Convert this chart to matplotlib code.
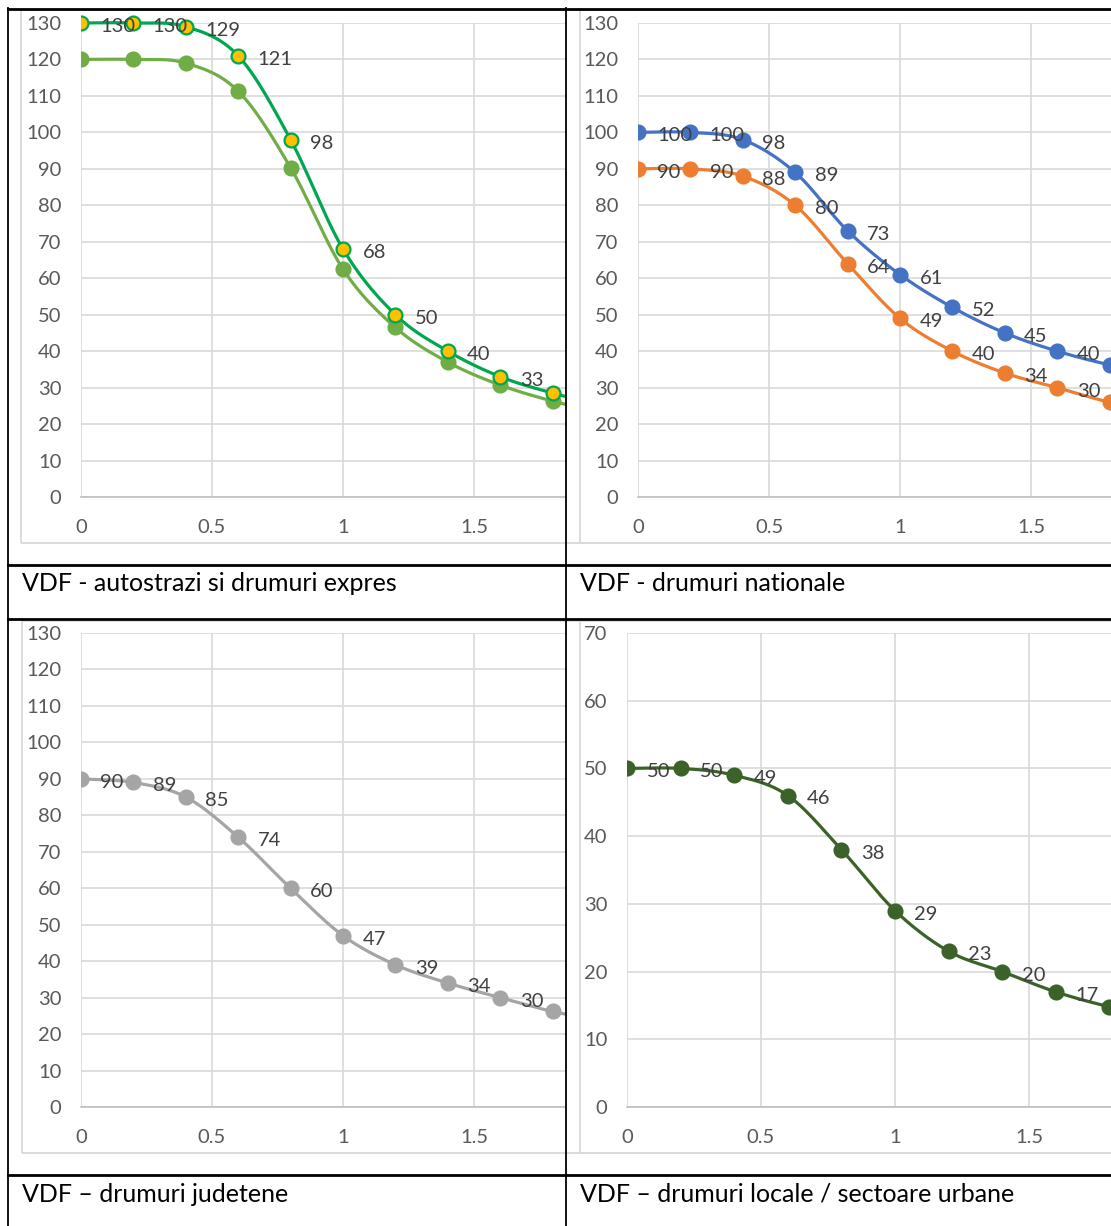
import numpy as np
import matplotlib
matplotlib.use("Agg")
from matplotlib import pyplot as plt
from matplotlib.patches import Rectangle
from matplotlib.lines import Line2D

plt.rcParams['font.family'] = ['Lato', 'DejaVu Sans']

# speed ratio on x, speed (km/h) on y
x_vals = [0, 0.2, 0.4, 0.6, 0.8, 1.0, 1.2, 1.4, 1.6, 1.8, 2.0]

motorway_130 = [130, 130, 129, 121, 98, 68, 50, 40, 33, 28.5, 25]
motorway_120 = [120, 120, 119, 111.3, 90.3, 62.5, 46.5, 37, 30.7, 26.3, 23]
national_100 = [100, 100, 98, 89, 73, 61, 52, 45, 40, 36.2, 33]
national_90 = [90, 90, 88, 80, 64, 49, 40, 34, 30, 26, 23.5]
county_90 = [90, 89, 85, 74, 60, 47, 39, 34, 30, 26.2, 23.5]
local_50 = [50, 50, 49, 46, 38, 29, 23, 20, 17, 14.8, 13.2]

captions = ["VDF - autostrazi si drumuri expres", "VDF - drumuri nationale",
            "VDF \u2013 drumuri judetene", "VDF \u2013 drumuri locale / sectoare urbane"]

W, H = 1111, 1226
fig = plt.figure(figsize=(W / 100, H / 100), dpi=100)


def px_axes(left, top, right, bottom):
    return fig.add_axes([left / W, 1 - bottom / H, (right - left) / W, (bottom - top) / H])


def smooth(x, y, n=25):
    # bezier smoothing like excel's smoothed line
    P = np.column_stack([x, y]).astype(float)
    P = np.vstack([P[0], P, P[-1]])
    t = np.linspace(0, 1, n)[:, None]
    segs = []
    for i in range(1, len(P) - 2):
        p0, p1, p2, p3 = P[i - 1], P[i], P[i + 1], P[i + 2]
        c1 = p1 + (p2 - p0) / 6
        c2 = p2 - (p3 - p1) / 6
        segs.append((1 - t) ** 3 * p1 + 3 * (1 - t) ** 2 * t * c1 + 3 * (1 - t) * t ** 2 * c2 + t ** 3 * p2)
    s = np.vstack(segs)
    return s[:, 0], s[:, 1]


def style(ax, xmax, ymax, ystep):
    ax.set_xlim(0, xmax)
    ax.set_ylim(0, ymax)
    ax.set_xticks([0, 0.5, 1, 1.5])
    ax.set_xticklabels(['0', '0.5', '1', '1.5'])
    ax.set_yticks(np.arange(0, ymax + 1, ystep))
    ax.grid(True, color='#D9D9D9', lw=1.2)
    ax.set_axisbelow(True)
    for s in ['top', 'right', 'left']:
        ax.spines[s].set_visible(False)
    ax.spines['bottom'].set_color('#BFBFBF')
    ax.spines['bottom'].set_linewidth(1.2)
    ax.tick_params(length=0, labelsize=14.5, labelcolor='#595959')
    ax.tick_params(axis='x', pad=16)
    ax.tick_params(axis='y', pad=14)
    ax.patch.set_alpha(0)


def series(ax, y, color, face=None, edge=None, labels=True):
    xmax = ax.get_xlim()[1]
    clip = Rectangle((0, -0.2), 1, 1.4, transform=ax.transAxes)
    sx, sy = smooth(x_vals, y)
    ln, = ax.plot(sx, sy, color=color, lw=2.3, zorder=3)
    ln.set_clip_path(clip)
    vis = [i for i, xv in enumerate(x_vals) if xv <= xmax]
    mk, = ax.plot([x_vals[i] for i in vis], [y[i] for i in vis], 'o', ms=10, mfc=face or color,
                  mec=edge or color, mew=1.6, zorder=4)
    mk.set_clip_path(clip)
    if labels:
        for xv, yv in zip(x_vals, y):
            if xv > xmax - 0.15:
                continue
            ax.annotate("%d" % round(yv), (xv, yv), xytext=(14, -2.5), textcoords='offset points',
                        ha='left', va='center', fontsize=14.5, color='#404040',
                        annotation_clip=False, zorder=5)


# chart area frames
for l, t, b in [(21, 10, 543), (580, 10, 543), (22, 621, 1153), (580, 621, 1153)]:
    fig.add_artist(Rectangle((l / W, 1 - b / H), 1.2, (b - t) / H, transform=fig.transFigure,
                             fill=False, ec='#D9D9D9', lw=1.3, zorder=0))

ax1 = px_axes(81, 23, 566, 497)
style(ax1, 485 / 262, 130, 10)
series(ax1, motorway_120, '#70AD47', labels=False)
series(ax1, motorway_130, '#00A650', face='#FFC000', edge='#00A650')

ax2 = px_axes(638, 23, 1111, 497)
style(ax2, 473 / 262, 130, 10)
series(ax2, national_90, '#ED7D31')
series(ax2, national_100, '#4472C4')

ax3 = px_axes(81, 633, 566, 1107)
style(ax3, 485 / 262, 130, 10)
series(ax3, county_90, '#A5A5A5')

ax4 = px_axes(627, 633, 1111, 1107)
style(ax4, 484 / 268, 70, 10)
series(ax4, local_50, '#3B6229')

for cap, (cx, cy) in zip(captions, [(22, 584), (580, 584), (22, 1194), (580, 1194)]):
    fig.text(cx / W, 1 - cy / H, cap, fontsize=18, color='black', va='center', ha='left')


# table rules
def hline(y, x0=8, x1=W, lw=2):
    fig.add_artist(Line2D([x0 / W, x1 / W], [1 - y / H, 1 - y / H], color='black', lw=lw,
                          transform=fig.transFigure, zorder=10))


def vline(x, y0=8, y1=H, lw=1.3):
    fig.add_artist(Line2D([x / W, x / W], [1 - y0 / H, 1 - y1 / H], color='black', lw=lw,
                          transform=fig.transFigure, zorder=10))


hline(9)
hline(565)
hline(619)
hline(1175)
vline(8)
vline(566)

fig.savefig('out.png', dpi=100)
